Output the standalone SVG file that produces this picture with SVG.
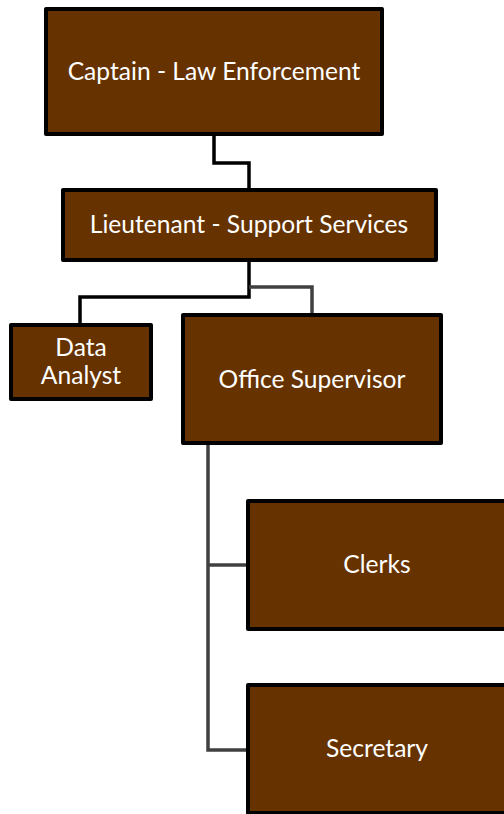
<svg xmlns="http://www.w3.org/2000/svg" width="504" height="814" viewBox="0 0 504 814">
<style>
.box{fill:#663300;stroke:#000;stroke-width:4;stroke-linejoin:round}
.t{fill:#fff;font-family:Lato,"Open Sans","Liberation Sans",sans-serif;font-size:24.6px;text-anchor:middle}
.c{fill:none;stroke-width:3.5}
.k{stroke:#000}
.g{stroke:#404040}
</style>
<rect width="504" height="814" fill="#fff"/>
<g id="connectors">
<path class="c k" d="M214 136V163H249V190"/>
<path class="c k" d="M249 260V297H80V325"/>
<path class="c g" d="M249 287H312V315"/>
<path class="c g" d="M208 443V750H248"/>
<path class="c g" d="M208 565H248"/>
</g>
<g id="captain">
<rect class="box" x="46" y="9" width="336" height="125"/>
<text class="t" x="214" y="80">Captain - Law Enforcement</text>
</g>
<g id="lieutenant">
<rect class="box" x="63" y="190" width="373" height="70"/>
<text class="t" x="249" y="233">Lieutenant - Support Services</text>
</g>
<g id="data-analyst">
<rect class="box" x="11" y="325" width="140" height="74"/>
<text class="t" x="81" y="356">Data</text>
<text class="t" x="81" y="384">Analyst</text>
</g>
<g id="office-supervisor">
<rect class="box" x="183" y="315" width="258" height="128"/>
<text class="t" x="312" y="388">Office Supervisor</text>
</g>
<g id="clerks">
<rect class="box" x="248" y="501" width="262" height="128"/>
<text class="t" x="377" y="573">Clerks</text>
</g>
<g id="secretary">
<rect class="box" x="248" y="685" width="262" height="128"/>
<text class="t" x="377" y="757">Secretary</text>
</g>
</svg>
